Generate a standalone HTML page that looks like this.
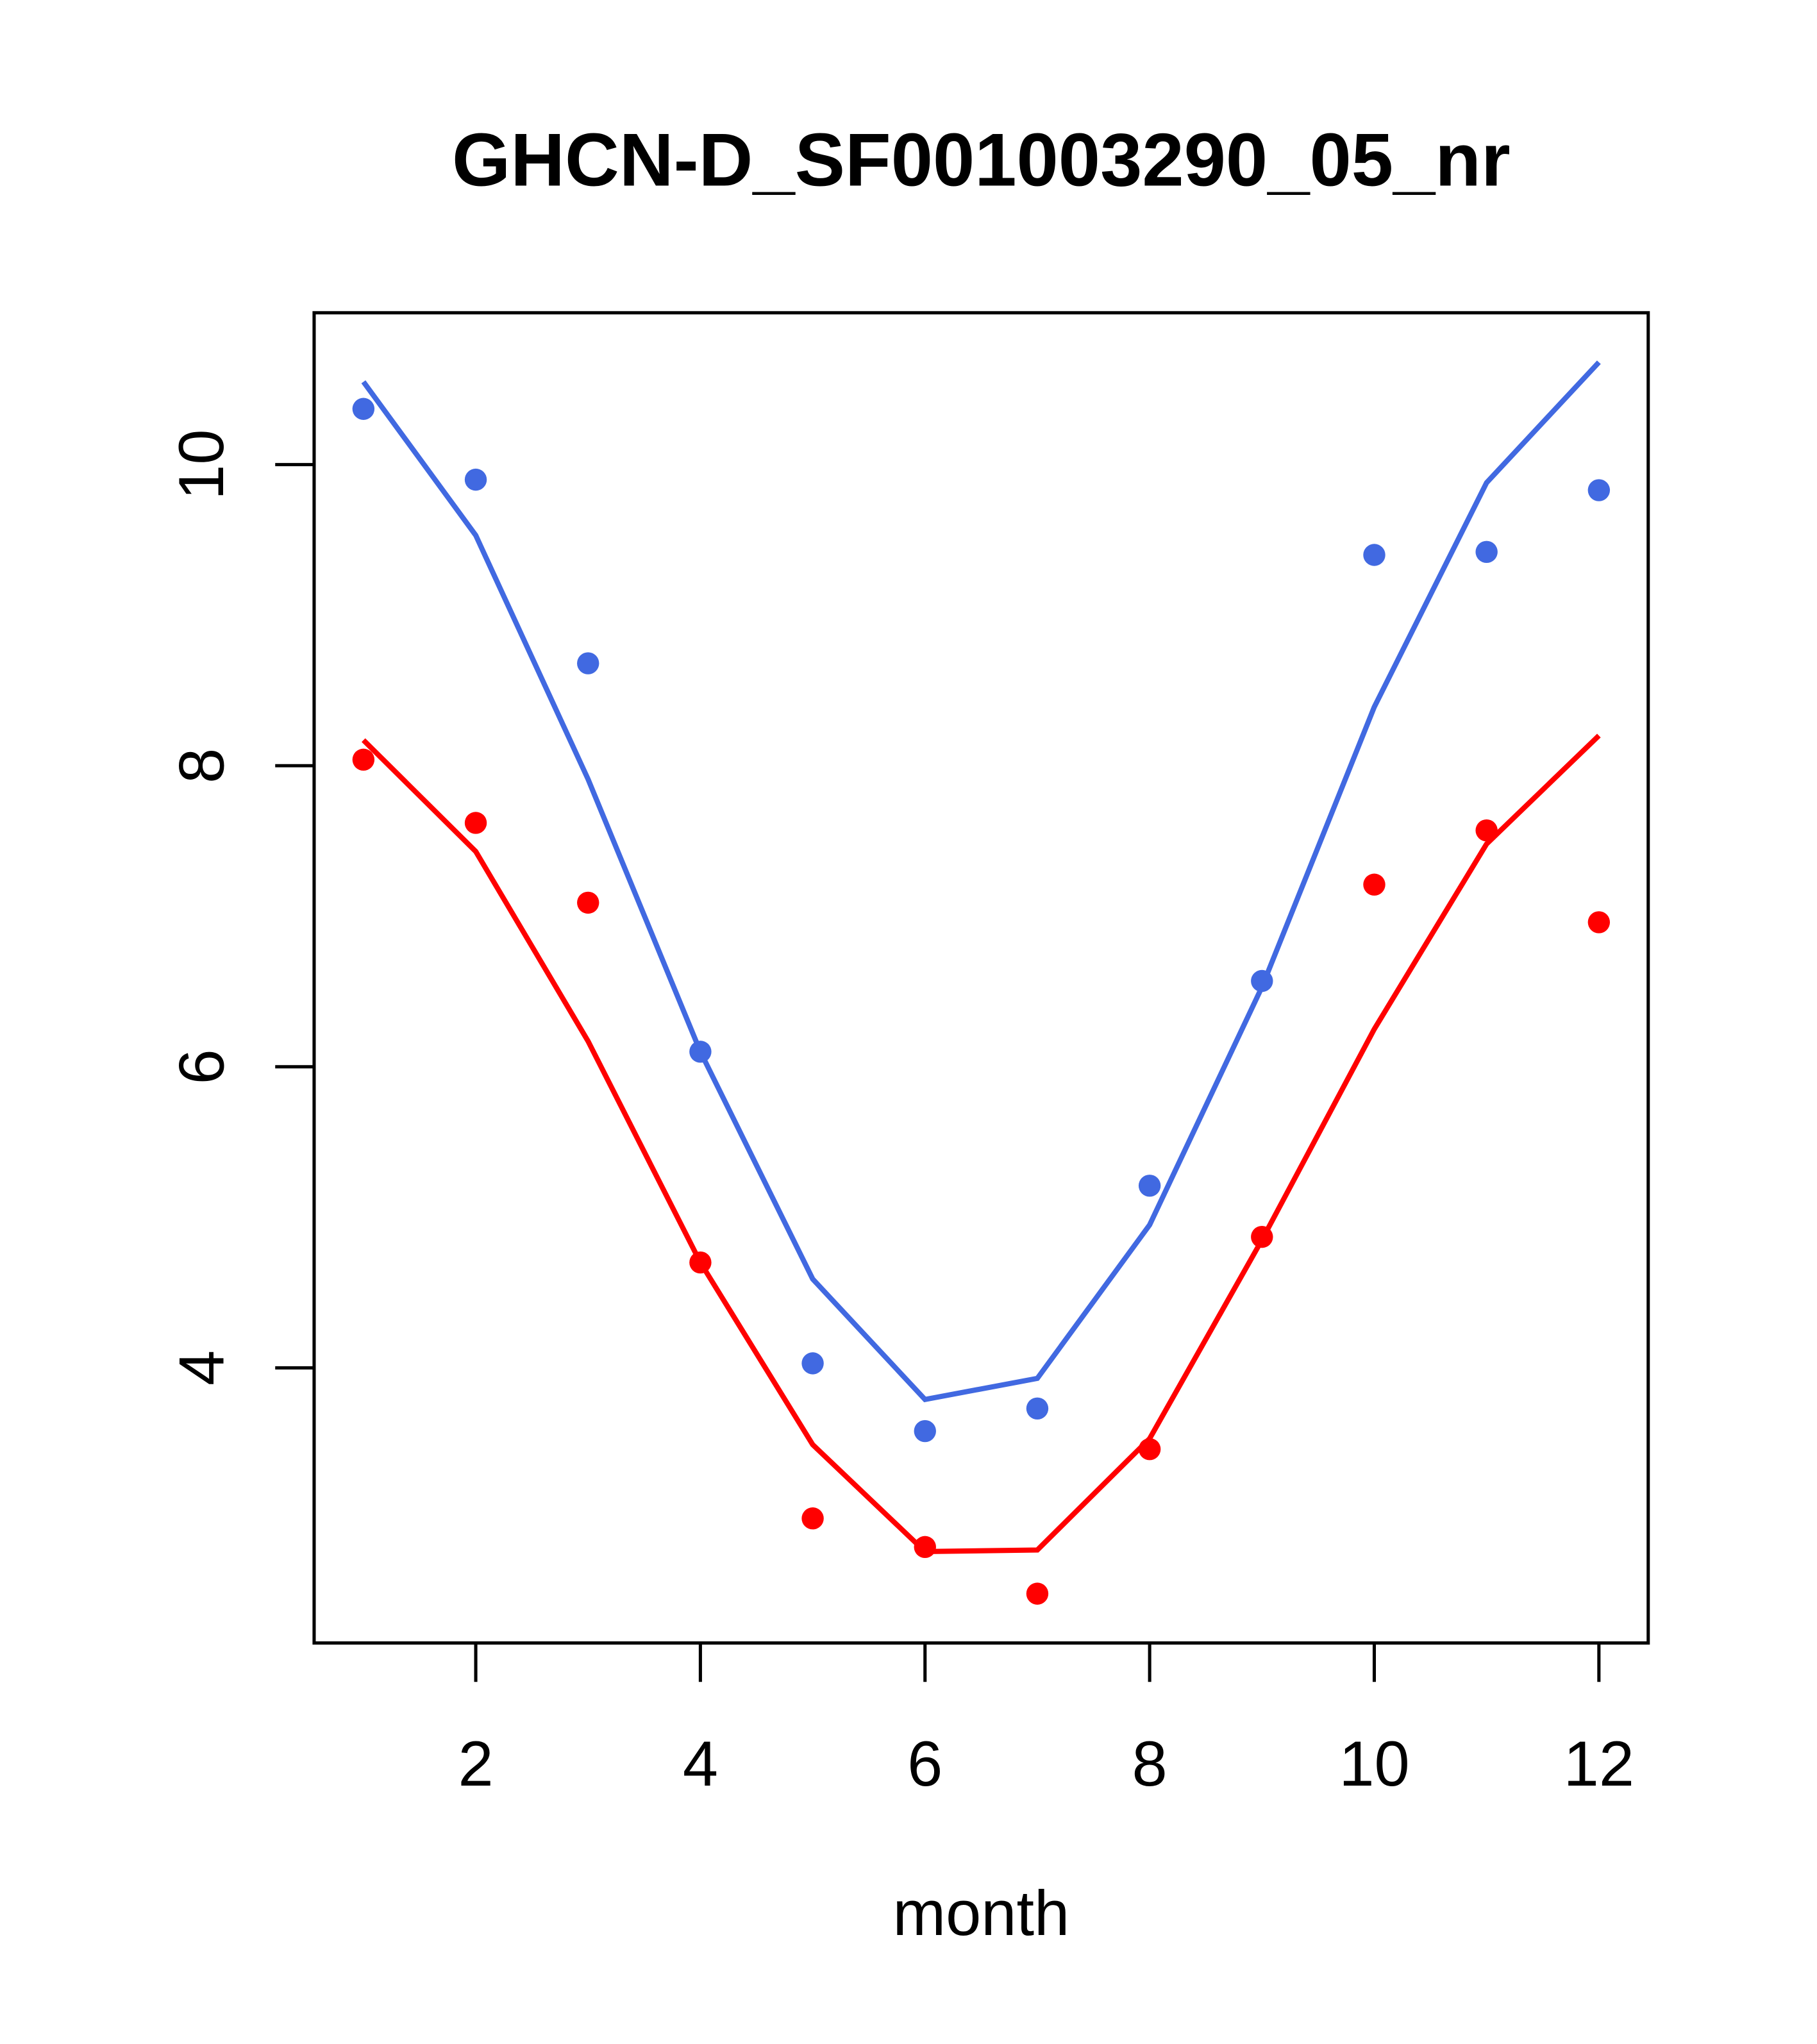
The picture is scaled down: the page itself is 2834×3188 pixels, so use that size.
<!DOCTYPE html>
<html><head><meta charset="utf-8"><style>html,body{margin:0;padding:0;background:#fff}svg{display:block}</style></head>
<body>
<svg id="chart" width="2834" height="3188" viewBox="0 0 1400 1575" xmlns="http://www.w3.org/2000/svg" font-family="Liberation Sans, Arial, sans-serif">
<rect width="1400" height="1575" fill="#fff"/>
<text x="756" y="143" text-anchor="middle" font-size="58" font-weight="bold">GHCN-D_SF001003290_05_nr</text>
<text x="756" y="1491" text-anchor="middle" font-size="49">month</text>
<rect x="242" y="241" width="1028" height="1025" fill="none" stroke="#000" stroke-width="2.5"/>
<g id="axes"></g>
<g id="marks"></g>
</svg>
<script>
const months = [1,2,3,4,5,6,7,8,9,10,11,12];
const bluePoints = [10.37,9.90,8.68,6.10,4.03,3.58,3.73,5.21,6.57,9.40,9.42,9.83];
const blueLine = [10.55,9.53,7.91,6.10,4.59,3.79,3.93,4.95,6.53,8.39,9.88,10.68];
const redPoints = [8.04,7.62,7.09,4.70,3.00,2.81,2.50,3.46,4.87,7.21,7.57,6.96];
const redLine = [8.17,7.43,6.17,4.70,3.49,2.78,2.79,3.53,4.85,6.25,7.48,8.20];
const xTicks = [2,4,6,8,10,12];
const yTicks = [4,6,8,10];

const NS='http://www.w3.org/2000/svg';
const xs = m => 280 + (m-1)*(1232-280)/11;
const ys = v => 358 + (10-v)*116;
const axes=document.getElementById('axes'), marks=document.getElementById('marks');
function mk(tag, attrs, parent){const e=document.createElementNS(NS,tag);for(const k in attrs)e.setAttribute(k,attrs[k]);parent.appendChild(e);return e;}
xTicks.forEach(t=>{
  const l=mk('line',{x1:xs(t),x2:xs(t),y1:1266,y2:1296,stroke:'#000','stroke-width':2.5},axes);
  
  
  const tx=mk('text',{x:xs(t),y:1376,'text-anchor':'middle','font-size':49},axes);
  tx.textContent=t;
  
  
});
yTicks.forEach(t=>{
  const l=mk('line',{x1:212,x2:242,y1:ys(t),y2:ys(t),stroke:'#000','stroke-width':2.5},axes);
  
  
  const tx=mk('text',{x:172,y:ys(t),'text-anchor':'middle','font-size':49,transform:`rotate(-90 172 ${ys(t)})`},axes);
  tx.textContent=t;
  
  
});
function line(vals,color,name){
  const p=mk('polyline',{points:vals.map((v,i)=>xs(months[i])+','+ys(v)).join(' '),fill:'none',stroke:color,'stroke-width':4},marks);
  
  
}
function pts(vals,color,name){
  vals.forEach((v,i)=>{
    const c=mk('circle',{cx:xs(months[i]),cy:ys(v),r:8.5,fill:color},marks);
    
    
  });
}
line(blueLine,'#4169E1','blue-line');
line(redLine,'#FF0000','red-line');
pts(bluePoints,'#4169E1','blue-point');
pts(redPoints,'#FF0000','red-point');
</script>
</body></html>
